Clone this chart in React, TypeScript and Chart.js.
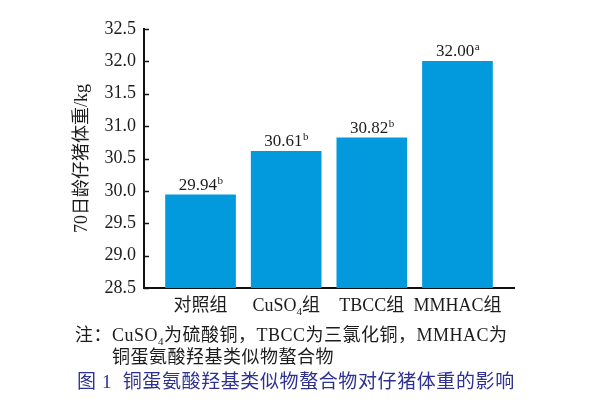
import React, { useEffect, useRef } from 'react';
import { Chart, registerables } from 'chart.js';

Chart.register(...registerables);

// ---- data ----
const categories = ['对照组', 'CuSO_4组', 'TBCC组', 'MMHAC组'];
const weights = [29.94, 30.61, 30.82, 32.0];
const letters = ['b', 'b', 'b', 'a'];
const yMin = 28.5;
const yMax = 32.5;
const yStep = 0.5;
const yTitle = '70日龄仔猪体重/kg';
const noteLines = ['注：CuSO_4为硫酸铜，TBCC为三氯化铜，MMHAC为', '铜蛋氨酸羟基类似物螯合物'];
const caption = '图 1  铜蛋氨酸羟基类似物螯合物对仔猪体重的影响';

const FAMILY = "'Liberation Serif', 'Noto Sans CJK SC', serif";
const TEXT = '#1c1c1c';
const BAR = '#0399dd';
const CAPTION = '#2e3192';

// draw text where "_X" means subscript X
function drawRich(ctx: CanvasRenderingContext2D, text: string, x: number, y: number, size: number, align: 'left' | 'center', color: string, spacing = 0) {
  const parts: { t: string; sub: boolean }[] = [];
  const re = /_(\d)/g;
  let last = 0;
  let m: RegExpExecArray | null;
  while ((m = re.exec(text))) {
    if (m.index > last) parts.push({ t: text.slice(last, m.index), sub: false });
    parts.push({ t: m[1], sub: true });
    last = m.index + m[0].length;
  }
  if (last < text.length) parts.push({ t: text.slice(last), sub: false });
  const subSize = Math.round(size * 0.6);
  (ctx as any).letterSpacing = `${spacing}px`;
  let total = 0;
  const widths = parts.map((p) => {
    ctx.font = `${p.sub ? subSize : size}px ${FAMILY}`;
    const w = ctx.measureText(p.t).width;
    total += w;
    return w;
  });
  let cx = align === 'center' ? x - total / 2 : x;
  ctx.fillStyle = color;
  ctx.textAlign = 'left';
  ctx.textBaseline = 'alphabetic';
  parts.forEach((p, i) => {
    ctx.font = `${p.sub ? subSize : size}px ${FAMILY}`;
    ctx.fillText(p.t, cx, p.sub ? y + size * 0.22 : y);
    cx += widths[i];
  });
  (ctx as any).letterSpacing = '0px';
}

const extrasPlugin = {
  id: 'extras',
  afterDraw(chart: any) {
    const ctx: CanvasRenderingContext2D = chart.ctx;
    const xs = chart.scales.x;
    const ys = chart.scales.y;
    ctx.save();
    // inward ticks on y axis
    ctx.strokeStyle = '#111';
    ctx.lineWidth = 1.5;
    ys.ticks.forEach((t: any) => {
      const py = Math.round(ys.getPixelForValue(t.value)) + 0.5;
      ctx.beginPath();
      ctx.moveTo(ys.right, py);
      ctx.lineTo(ys.right + 5, py);
      ctx.stroke();
    });
    // value labels with superscript letters
    const meta = chart.getDatasetMeta(0);
    meta.data.forEach((bar: any, i: number) => {
      const num = weights[i].toFixed(2);
      const sup = letters[i];
      ctx.font = `17px ${FAMILY}`;
      const w1 = ctx.measureText(num).width;
      ctx.font = `11px ${FAMILY}`;
      const w2 = ctx.measureText(sup).width;
      const sx = bar.x - (w1 + w2) / 2;
      const by = bar.y - 5;
      ctx.fillStyle = TEXT;
      ctx.textAlign = 'left';
      ctx.textBaseline = 'alphabetic';
      ctx.font = `17px ${FAMILY}`;
      ctx.fillText(num, sx, by);
      ctx.font = `11px ${FAMILY}`;
      ctx.fillText(sup, sx + w1 + 0.5, by - 6);
    });
    // category labels
    categories.forEach((c, i) => {
      drawRich(ctx, c, xs.getPixelForValue(i), 311, 18, 'center', TEXT);
    });
    // notes and caption
    drawRich(ctx, noteLines[0], 75, 341, 18, 'left', TEXT, 0.5);
    drawRich(ctx, noteLines[1], 112, 363, 18, 'left', TEXT, 0.5);
    drawRich(ctx, caption, 77, 388, 19, 'left', CAPTION, 0.6);
    ctx.restore();
  },
};

export default function App() {
  const ref = useRef<HTMLCanvasElement>(null);
  useEffect(() => {
    if (!ref.current) return;
    const chart = new Chart(ref.current, {
      type: 'bar',
      data: {
        datasets: [
          {
            data: weights.map((v, i) => ({ x: i, y: v })),
            backgroundColor: BAR,
            borderWidth: 0,
            barThickness: 70,
            base: yMin,
          } as any,
        ],
      },
      options: {
        animation: false,
        responsive: false,
        devicePixelRatio: 1,
        layout: { padding: { left: 60, right: 86, top: 29, bottom: 119 } },
        plugins: { legend: { display: false }, tooltip: { enabled: false } },
        scales: {
          x: {
            type: 'linear',
            min: -0.66,
            max: 3.66,
            offset: false,
            grid: { display: false, drawTicks: false, offset: false },
            border: { display: true, color: '#111', width: 2 },
            ticks: { display: false },
            afterBuildTicks: (s: any) => {
              s.ticks = categories.map((_, i) => ({ value: i }));
            },
            afterFit: (s: any) => {
              s.height = 4;
            },
          },
          y: {
            min: yMin,
            max: yMax,
            grid: { display: false, drawTicks: false },
            border: { display: true, color: '#111', width: 2 },
            ticks: {
              stepSize: yStep,
              padding: 8,
              color: TEXT,
              font: { family: FAMILY, size: 18 },
              callback: (v: any) => Number(v).toFixed(1),
            },
            title: {
              display: true,
              text: yTitle,
              color: TEXT,
              font: { family: FAMILY, size: 18 },
              padding: { top: 11, bottom: 0 },
            },
            afterFit: (s: any) => {
              s.width = 84;
            },
          },
        },
      },
      plugins: [extrasPlugin],
    });
    return () => chart.destroy();
  }, []);
  return (
    <div style={{ position: 'absolute', left: 0, top: 0, width: 600, height: 411, background: '#fff' }}>
      <canvas ref={ref} width={600} height={411} />
    </div>
  );
}
